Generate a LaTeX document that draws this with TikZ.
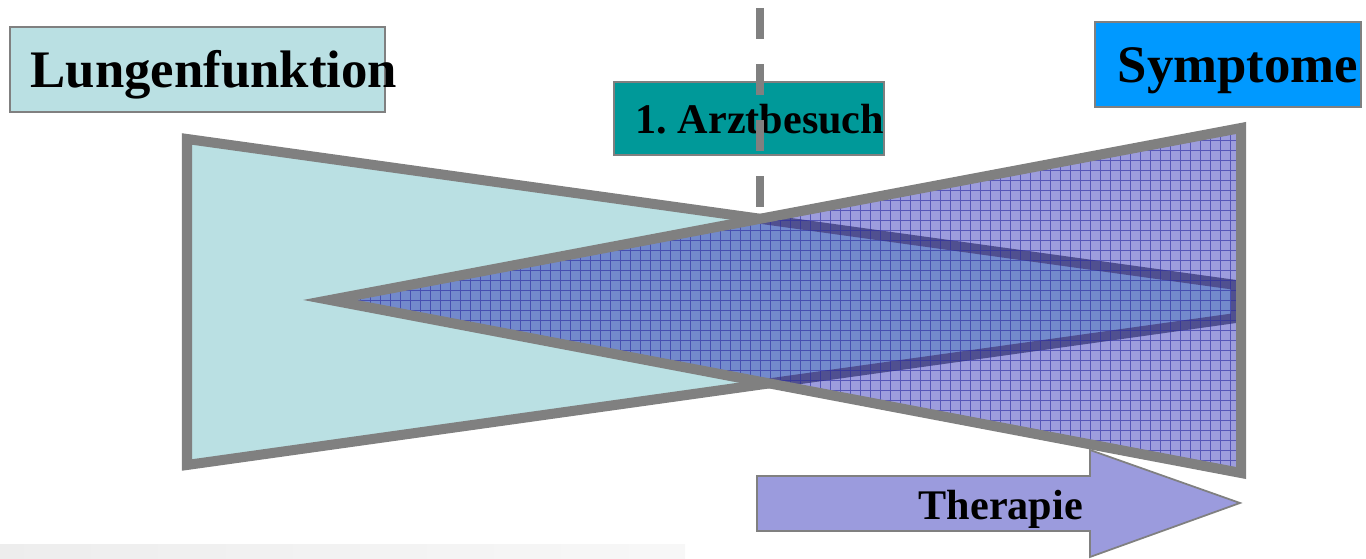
\documentclass[tikz,border=0pt]{standalone}
\usepackage{fontspec}
\setmainfont{Liberation Serif}

\definecolor{lunglight}{RGB}{186,224,227}
\definecolor{sympblue}{RGB}{0,153,255}
\definecolor{visitteal}{RGB}{0,153,153}
\definecolor{edgegray}{RGB}{128,128,128}
\definecolor{gridblue}{RGB}{40,40,160}
\definecolor{symfill}{RGB}{10,10,170}
\definecolor{therapy}{RGB}{155,155,221}

\begin{document}
\begin{tikzpicture}[
		x=0.01cm, y=-0.01cm,
		tag/.style={rectangle, draw=edgegray, line width=0.6pt, inner sep=0pt},
		caption/.style={anchor=base west, inner sep=0pt, font=\fontsize{15}{18}\selectfont\bfseries},
		small caption/.style={caption, font=\fontsize{12}{14}\selectfont\bfseries},
		outline/.style={draw=edgegray, line width=0.1cm}
		]
		\useasboundingbox (0,0) rectangle (1366,559);
		\shade[left color=black!7, right color=black!3] (0,545) rectangle (685,559);

		% label boxes
		\node[tag, fill=lunglight, minimum width=3.75cm, minimum height=0.85cm] (lungbox) at (197.5,69.5) {};
		\node[caption] (lungtext) at (30,88) {Lungenfunktion};
		\node[tag, fill=sympblue, minimum width=2.66cm, minimum height=0.85cm] (sympbox) at (1228,64.5) {};
		\node[caption] (symptext) at (1117,83) {Symptome};
		\node[tag, fill=visitteal, minimum width=2.7cm, minimum height=0.73cm] (visitbox) at (749,118.5) {};
		\node[small caption] (visittext) at (635,134) {1.\ Arztbesuch};
		\draw[edgegray, line width=0.08cm, dash pattern=on 0.31cm off 0.25cm] (760,8) -- (760,207);

		% lung function wedge
		\draw[outline, fill=lunglight] (187,139) -- (1236,285) -- (1236,318) -- (187,465) -- cycle;

		% therapy arrow
		\draw[draw=edgegray, line width=0.5pt, fill=therapy] (757,476) -- (1090,476) -- (1090,450) -- (1240,503)
			-- (1090,557) -- (1090,531) -- (757,531) -- cycle;
		\node[small caption] (therapytext) at (918,520) {Therapie};

		% symptom wedge
		\begin{scope}
			\clip (330,300) -- (1241,128) -- (1241,473) -- cycle;
			\fill[symfill, fill opacity=0.4] (300,120) rectangle (1250,480);
			\draw[gridblue, line width=0.25pt, opacity=0.6, step=1mm] (300,120) grid (1250,480);
		\end{scope}
		\draw[outline] (330,300) -- (1241,128) -- (1241,473) -- cycle;
	\end{tikzpicture}
\end{document}
